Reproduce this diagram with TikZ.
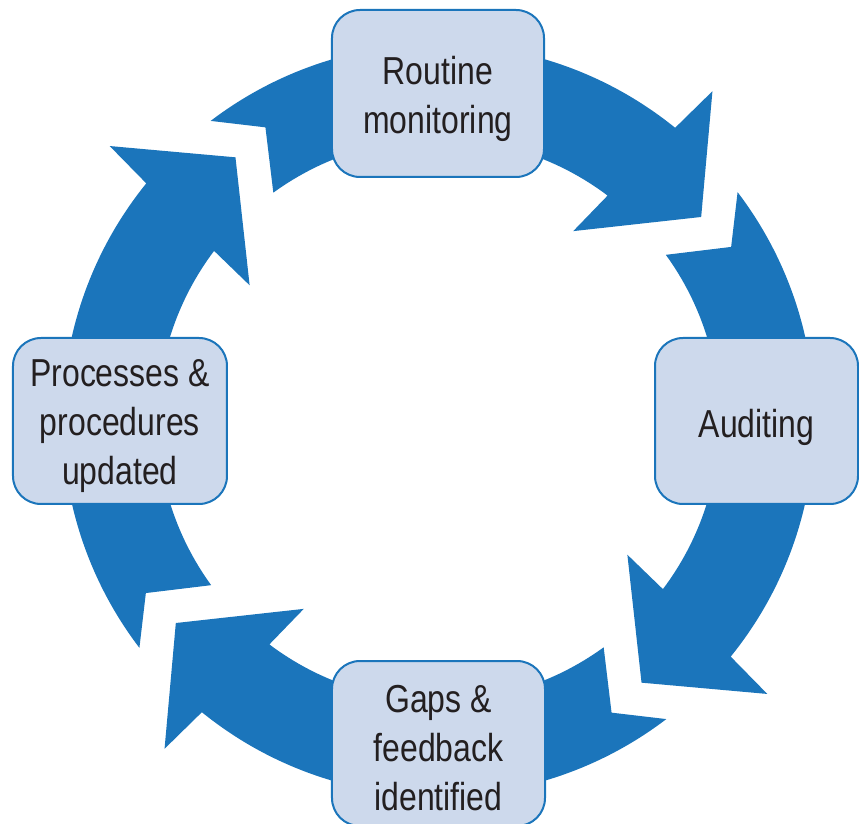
\documentclass[tikz,border=0pt]{standalone}
\usepackage{fontspec}
\setmainfont{Liberation Sans}[FakeStretch=0.82]
\definecolor{arrowblue}{HTML}{1B75BB}
\definecolor{boxfill}{HTML}{CDD9EC}
\definecolor{txt}{HTML}{231F20}
\tikzset{
  cyclebox/.style={draw=arrowblue, line width=2pt, fill=boxfill, rounded corners=28pt, inner sep=0pt},
  boxtext/.style={align=center, inner sep=0pt, text=txt, font=\fontsize{39}{49}\selectfont},
  blockarrow/.style={fill=arrowblue}
}
\begin{document}
\begin{tikzpicture}
\useasboundingbox (-438.5pt,-404pt) rectangle (420.5pt,420pt);
\foreach \a in {0,-90,-180,-270}{
  \fill[blockarrow] ({127.3+\a}:376pt) -- ({120.6+\a}:340pt) -- ({126+\a}:281pt)
    arc[start angle={126+\a}, end angle={53+\a}, radius=281pt]
    -- ({54.5+\a}:232pt) -- ({37.7+\a}:332pt) -- ({50.2+\a}:428pt) -- ({51+\a}:376pt)
    arc[start angle={51+\a}, end angle={127.3+\a}, radius=376pt] -- cycle;
}
\node[cyclebox, minimum width=212pt, minimum height=167pt] (rm) at (-0.5pt,326.5pt) {};
\node[cyclebox, minimum width=203pt, minimum height=166pt] (au) at (318pt,-1pt) {};
\node[cyclebox, minimum width=213pt, minimum height=165pt] (gf) at (0pt,-323.5pt) {};
\node[cyclebox, minimum width=214pt, minimum height=166pt] (pp) at (-318.5pt,-1pt) {};
\node[boxtext] (rmt) at ([yshift=-5pt]rm.center) {Routine\\monitoring};
\node[boxtext] (aut) at ([yshift=-6pt]au.center) {Auditing};
\node[boxtext] (gft) at ([yshift=-5pt]gf.center) {Gaps \&\\feedback\\identified};
\node[boxtext] (ppt) at ([yshift=-5pt]pp.center) {Processes \&\\procedures\\updated};
\end{tikzpicture}
\end{document}
